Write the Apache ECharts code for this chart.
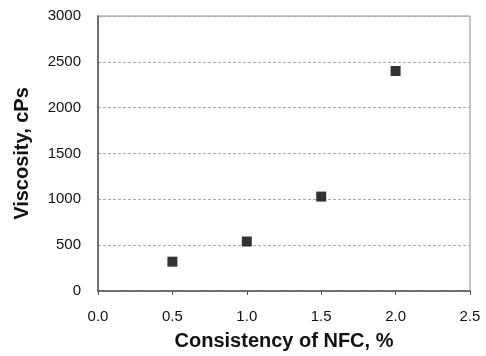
<!DOCTYPE html>
<html>
<head>
<meta charset="utf-8">
<script src="https://cdn.jsdelivr.net/npm/echarts@6/dist/echarts.min.js"></script>
<style>
  html, body { margin: 0; padding: 0; background: #fff; }
  #chart { width: 486px; height: 356px; }
</style>
</head>
<body>
<div id="chart"></div>
<script>
// data
var consistency = [0.5, 1.0, 1.5, 2.0];
var viscosity = [320, 540, 1030, 2400];

var points = consistency.map(function (c, i) { return [c, viscosity[i]]; });

var myChart = echarts.init(document.getElementById('chart'));
var option = {
    animation: false,
    grid: {
        left: 98, right: 16, top: 16, bottom: 65,
        show: true,
        borderColor: '#8a8a8a',
        borderWidth: 1
    },
    xAxis: {
        type: 'value',
        min: 0, max: 2.5, interval: 0.5,
        name: 'Consistency of NFC, %',
        nameLocation: 'middle',
        nameGap: 40,
        nameTextStyle: { fontFamily: 'Liberation Sans', fontSize: 20, fontWeight: 'bold', color: '#111' },
        axisLine: { show: true, onZero: false, lineStyle: { color: '#555', width: 1.5 } },
        axisTick: { show: true, length: 4, lineStyle: { color: '#555' } },
        axisLabel: {
            fontFamily: 'Liberation Sans', fontSize: 15, color: '#111', margin: 18,
            formatter: function (v) { return v.toFixed(1); }
        },
        splitLine: { show: false }
    },
    yAxis: {
        type: 'value',
        min: 0, max: 3000, interval: 500,
        name: 'Viscosity, cPs',
        nameLocation: 'middle',
        nameGap: 66,
        nameTextStyle: { fontFamily: 'Liberation Sans', fontSize: 20, fontWeight: 'bold', color: '#111' },
        axisLine: { show: true, lineStyle: { color: '#555', width: 1.5 } },
        axisTick: { show: false },
        axisLabel: {
            fontFamily: 'Liberation Sans', fontSize: 15, color: '#111', margin: 17,
            formatter: function (v) { return String(v); }
        },
        splitLine: {
            show: true,
            lineStyle: { color: '#aaa', type: [3, 2], width: 1 }
        }
    },
    series: [{
        type: 'scatter',
        symbol: 'rect',
        symbolSize: 10,
        itemStyle: { color: '#000' },
        data: points
    }]
};
myChart.setOption(option);
</script>
</body>
</html>
